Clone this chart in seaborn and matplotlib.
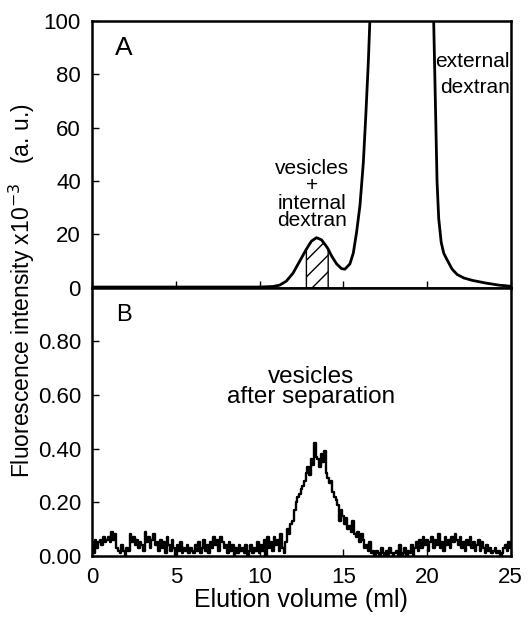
import numpy as np
import pandas as pd
import seaborn as sns
import matplotlib.pyplot as plt

# panel A: total fluorescence (a.u. x10^-3), peak of external dextran goes off scale
vol_a = [0, 5, 10, 10.8, 11.2, 11.6, 12.0, 12.4, 12.8, 13.1, 13.4, 13.7, 14.0, 14.1,
         14.3, 14.6, 14.9, 15.1, 15.4, 15.6, 15.8, 16.0, 16.2, 16.35, 16.5, 16.6,
         18.5, 20.35, 20.4, 20.5, 20.6, 20.7, 20.85, 21.0, 21.2, 21.5, 21.8, 22.2,
         22.7, 23.5, 24.3, 25]
int_a = [0.3, 0.3, 0.3, 0.5, 1.0, 2.5, 5.5, 10, 14.5, 17.5, 18.8, 18, 15.5, 14.5,
         12, 9, 7.2, 7, 9, 13, 21, 31, 47, 65, 85, 102,
         400, 105, 100, 70, 40, 26, 17, 13, 10.5, 7, 5, 3.7,
         2.8, 1.8, 1.0, 0.6]

# panel B: vesicles after separation, one reading every 0.1 ml
int_b = [
    0.05, 0.01, 0.06, 0.03, 0.05, 0.06, 0.04, 0.07, 0.05, 0.06,
    0.07, 0.05, 0.09, 0.06, 0.08, 0.03, 0.02, 0.01, 0.04, 0.02,
    0.00, 0.03, 0.02, 0.08, 0.05, 0.07, 0.04, 0.06, 0.03, 0.05,
    0.04, 0.02, 0.09, 0.05, 0.07, 0.03, 0.06, 0.08, 0.04, 0.05,
    0.02, 0.06, 0.03, 0.05, 0.01, 0.07, 0.04, 0.02, 0.06, 0.03,
    0.00, 0.04, 0.02, 0.05, 0.01, 0.03, 0.02, 0.04, 0.01, 0.03,
    0.02, 0.01, 0.04, 0.02, 0.05, 0.01, 0.03, 0.06, 0.02, 0.04,
    0.01, 0.05, 0.03, 0.07, 0.04, 0.06, 0.02, 0.07, 0.05, 0.03,
    0.04, 0.01, 0.05, 0.02, 0.04, 0.00, 0.03, 0.01, 0.04, 0.02,
    0.03, 0.01, 0.04, 0.00, 0.02, 0.04, 0.01, 0.03, 0.02, 0.05,
    0.01, 0.04, 0.02, 0.06, 0.00, 0.07, 0.03, 0.05, 0.02, 0.07,
    0.04, 0.06, 0.02, 0.08, 0.03, 0.01, 0.05, 0.10, 0.08, 0.12,
    0.13, 0.17, 0.20, 0.22, 0.23, 0.25, 0.26, 0.28, 0.31, 0.33,
    0.30, 0.36, 0.34, 0.42, 0.37, 0.36, 0.33, 0.38, 0.35, 0.39,
    0.31, 0.29, 0.27, 0.28, 0.24, 0.22, 0.21, 0.19, 0.13, 0.17,
    0.15, 0.12, 0.14, 0.10, 0.11, 0.09, 0.13, 0.08, 0.07, 0.09,
    0.05, 0.08, 0.06, 0.03, 0.04, 0.02, 0.05, 0.01, 0.02, 0.00,
    0.02, 0.01, 0.00, 0.03, 0.01, 0.00, 0.02, 0.00, 0.03, 0.01,
    0.00, 0.01, 0.02, 0.00, 0.04, 0.00, 0.01, 0.03, 0.00, 0.02,
    0.01, 0.04, 0.00, 0.03, 0.05, 0.02, 0.06, 0.03, 0.07, 0.04,
    0.06, 0.02, 0.05, 0.07, 0.03, 0.06, 0.04, 0.08, 0.03, 0.05,
    0.02, 0.07, 0.04, 0.06, 0.03, 0.07, 0.05, 0.08, 0.06, 0.04,
    0.07, 0.03, 0.05, 0.02, 0.06, 0.04, 0.07, 0.03, 0.05, 0.02,
    0.04, 0.06, 0.02, 0.05, 0.03, 0.01, 0.04, 0.02, 0.03, 0.01,
    0.02, 0.03, 0.01, 0.02, 0.00, 0.01, 0.03, 0.04, 0.02, 0.05, 0.03]
vol_b = [round(i * 0.1, 1) for i in range(len(int_b))]

hatch_from, hatch_to = 12.8, 14.1

sns.set_theme(style="ticks")
plt.rcParams['font.family'] = ['Liberation Sans', 'DejaVu Sans']
plt.rcParams['text.color'] = 'black'
plt.rcParams['axes.labelcolor'] = 'black'
plt.rcParams['hatch.linewidth'] = 1.0

df_a = pd.DataFrame({"vol": vol_a, "val": int_a})
df_b = pd.DataFrame({"vol": vol_b, "val": int_b})

fig = plt.figure(figsize=(5.32, 6.19), dpi=100)
ax1 = fig.add_axes([0.173, 0.535, 0.787, 0.431])
ax2 = fig.add_axes([0.173, 0.102, 0.787, 0.433], sharex=ax1)

sns.lineplot(data=df_a, x="vol", y="val", ax=ax1, color="black", lw=2.0)
va = np.array(vol_a)
ia = np.array(int_a)
m = (va >= hatch_from) & (va <= hatch_to)
ax1.fill_between(va[m], 0, ia[m], facecolor="none", edgecolor="black",
                 hatch="//", linewidth=1.0)
ax1.set_ylim(0, 100)
ax1.set_yticks([0, 20, 40, 60, 80, 100])
ax1.set_xlim(0, 25)
ax1.tick_params(labelbottom=False)
ax1.text(1.9, 90, "A", fontsize=19, ha="center", va="center")
ax1.text(13.15, 35, "vesicles\n+\ninternal\ndextran", fontsize=15,
         ha="center", va="center", linespacing=0.9)
ax1.text(24.95, 80, "external\ndextran", fontsize=15, ha="right",
         va="center", linespacing=1.45)

sns.lineplot(data=df_b, x="vol", y="val", ax=ax2, color="black", lw=1.7,
             drawstyle="steps-mid")
ax2.set_ylim(0, 1.0)
ax2.set_yticks([0, 0.2, 0.4, 0.6, 0.8])
ax2.set_yticklabels(["0.00", "0.20", "0.40", "0.60", "0.80"])
ax2.set_xticks([0, 5, 10, 15, 20, 25])
ax2.text(1.9, 0.9, "B", fontsize=17, ha="center", va="center")
ax2.text(13.05, 0.63, "vesicles\nafter separation", fontsize=17.5,
         ha="center", va="center", linespacing=0.9)

for ax in (ax1, ax2):
    ax.set_xlabel("")
    ax.set_ylabel("")
    for s in ax.spines.values():
        s.set_visible(True)
        s.set_linewidth(1.8)
        s.set_color("black")
    ax.tick_params(direction="in", length=5, width=1, labelsize=16, pad=8,
                   colors="black", top=False, right=False)

ax2.set_xlabel("Elution volume (ml)", fontsize=18, labelpad=0)
fig.text(0.042, 0.53, "Fluorescence intensity x10$^{-3}$   (a. u.)",
         rotation=90, ha="center", va="center", fontsize=16.5)

fig.savefig("out.png", dpi=100)
